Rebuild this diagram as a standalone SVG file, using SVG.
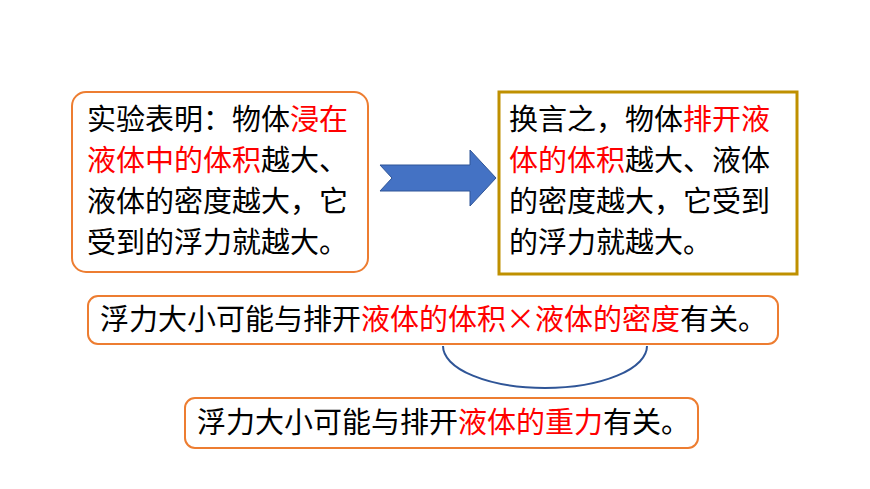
<svg xmlns="http://www.w3.org/2000/svg" width="870" height="489" viewBox="0 0 870 489">
<style>
.t{font-family:"Noto Sans CJK SC","Liberation Sans",sans-serif;font-size:29px;fill:#000}
.r{fill:#FF0000}
.ob{fill:#fff;stroke:#ED7D31;stroke-width:2}
</style>
<rect width="870" height="489" fill="#fff"/>
<g id="box1">
<rect class="ob" x="72" y="92" width="296" height="180" rx="14"/>
<text class="t" x="87" y="130">实验表明：物体<tspan class="r">浸在</tspan></text>
<text class="t" x="87" y="171"><tspan class="r">液体中的体积</tspan>越大、</text>
<text class="t" x="87" y="212">液体的密度越大，它</text>
<text class="t" x="87" y="253">受到的浮力就越大。</text>
</g>
<g id="connectors">
<polygon points="380,165 470,165 470,150 496,178 470,206 470,191 380,191 392,178" fill="#4472C4" stroke="#2F5597" stroke-width="1"/>
<path d="M443,346 A102,42 0 0 0 647,346" fill="none" stroke="#2F5597" stroke-width="2"/>
</g>
<g id="box2">
<rect x="499" y="92" width="298" height="182" fill="#fff" stroke="#BF9000" stroke-width="3"/>
<text class="t" x="509" y="130">换言之，物体<tspan class="r">排开液</tspan></text>
<text class="t" x="509" y="171"><tspan class="r">体的体积</tspan>越大、液体</text>
<text class="t" x="509" y="212">的密度越大，它受到</text>
<text class="t" x="509" y="253">的浮力就越大。</text>
</g>
<g id="box3">
<rect class="ob" x="88" y="296" width="690" height="48" rx="10"/>
<text class="t" x="100" y="330">浮力大小可能与排开<tspan class="r">液体的体积×液体的密度</tspan>有关。</text>
</g>
<g id="box4">
<rect class="ob" x="185" y="398" width="513" height="50" rx="10"/>
<text class="t" x="197" y="433">浮力大小可能与排开<tspan class="r">液体的重力</tspan>有关。</text>
</g>
</svg>
